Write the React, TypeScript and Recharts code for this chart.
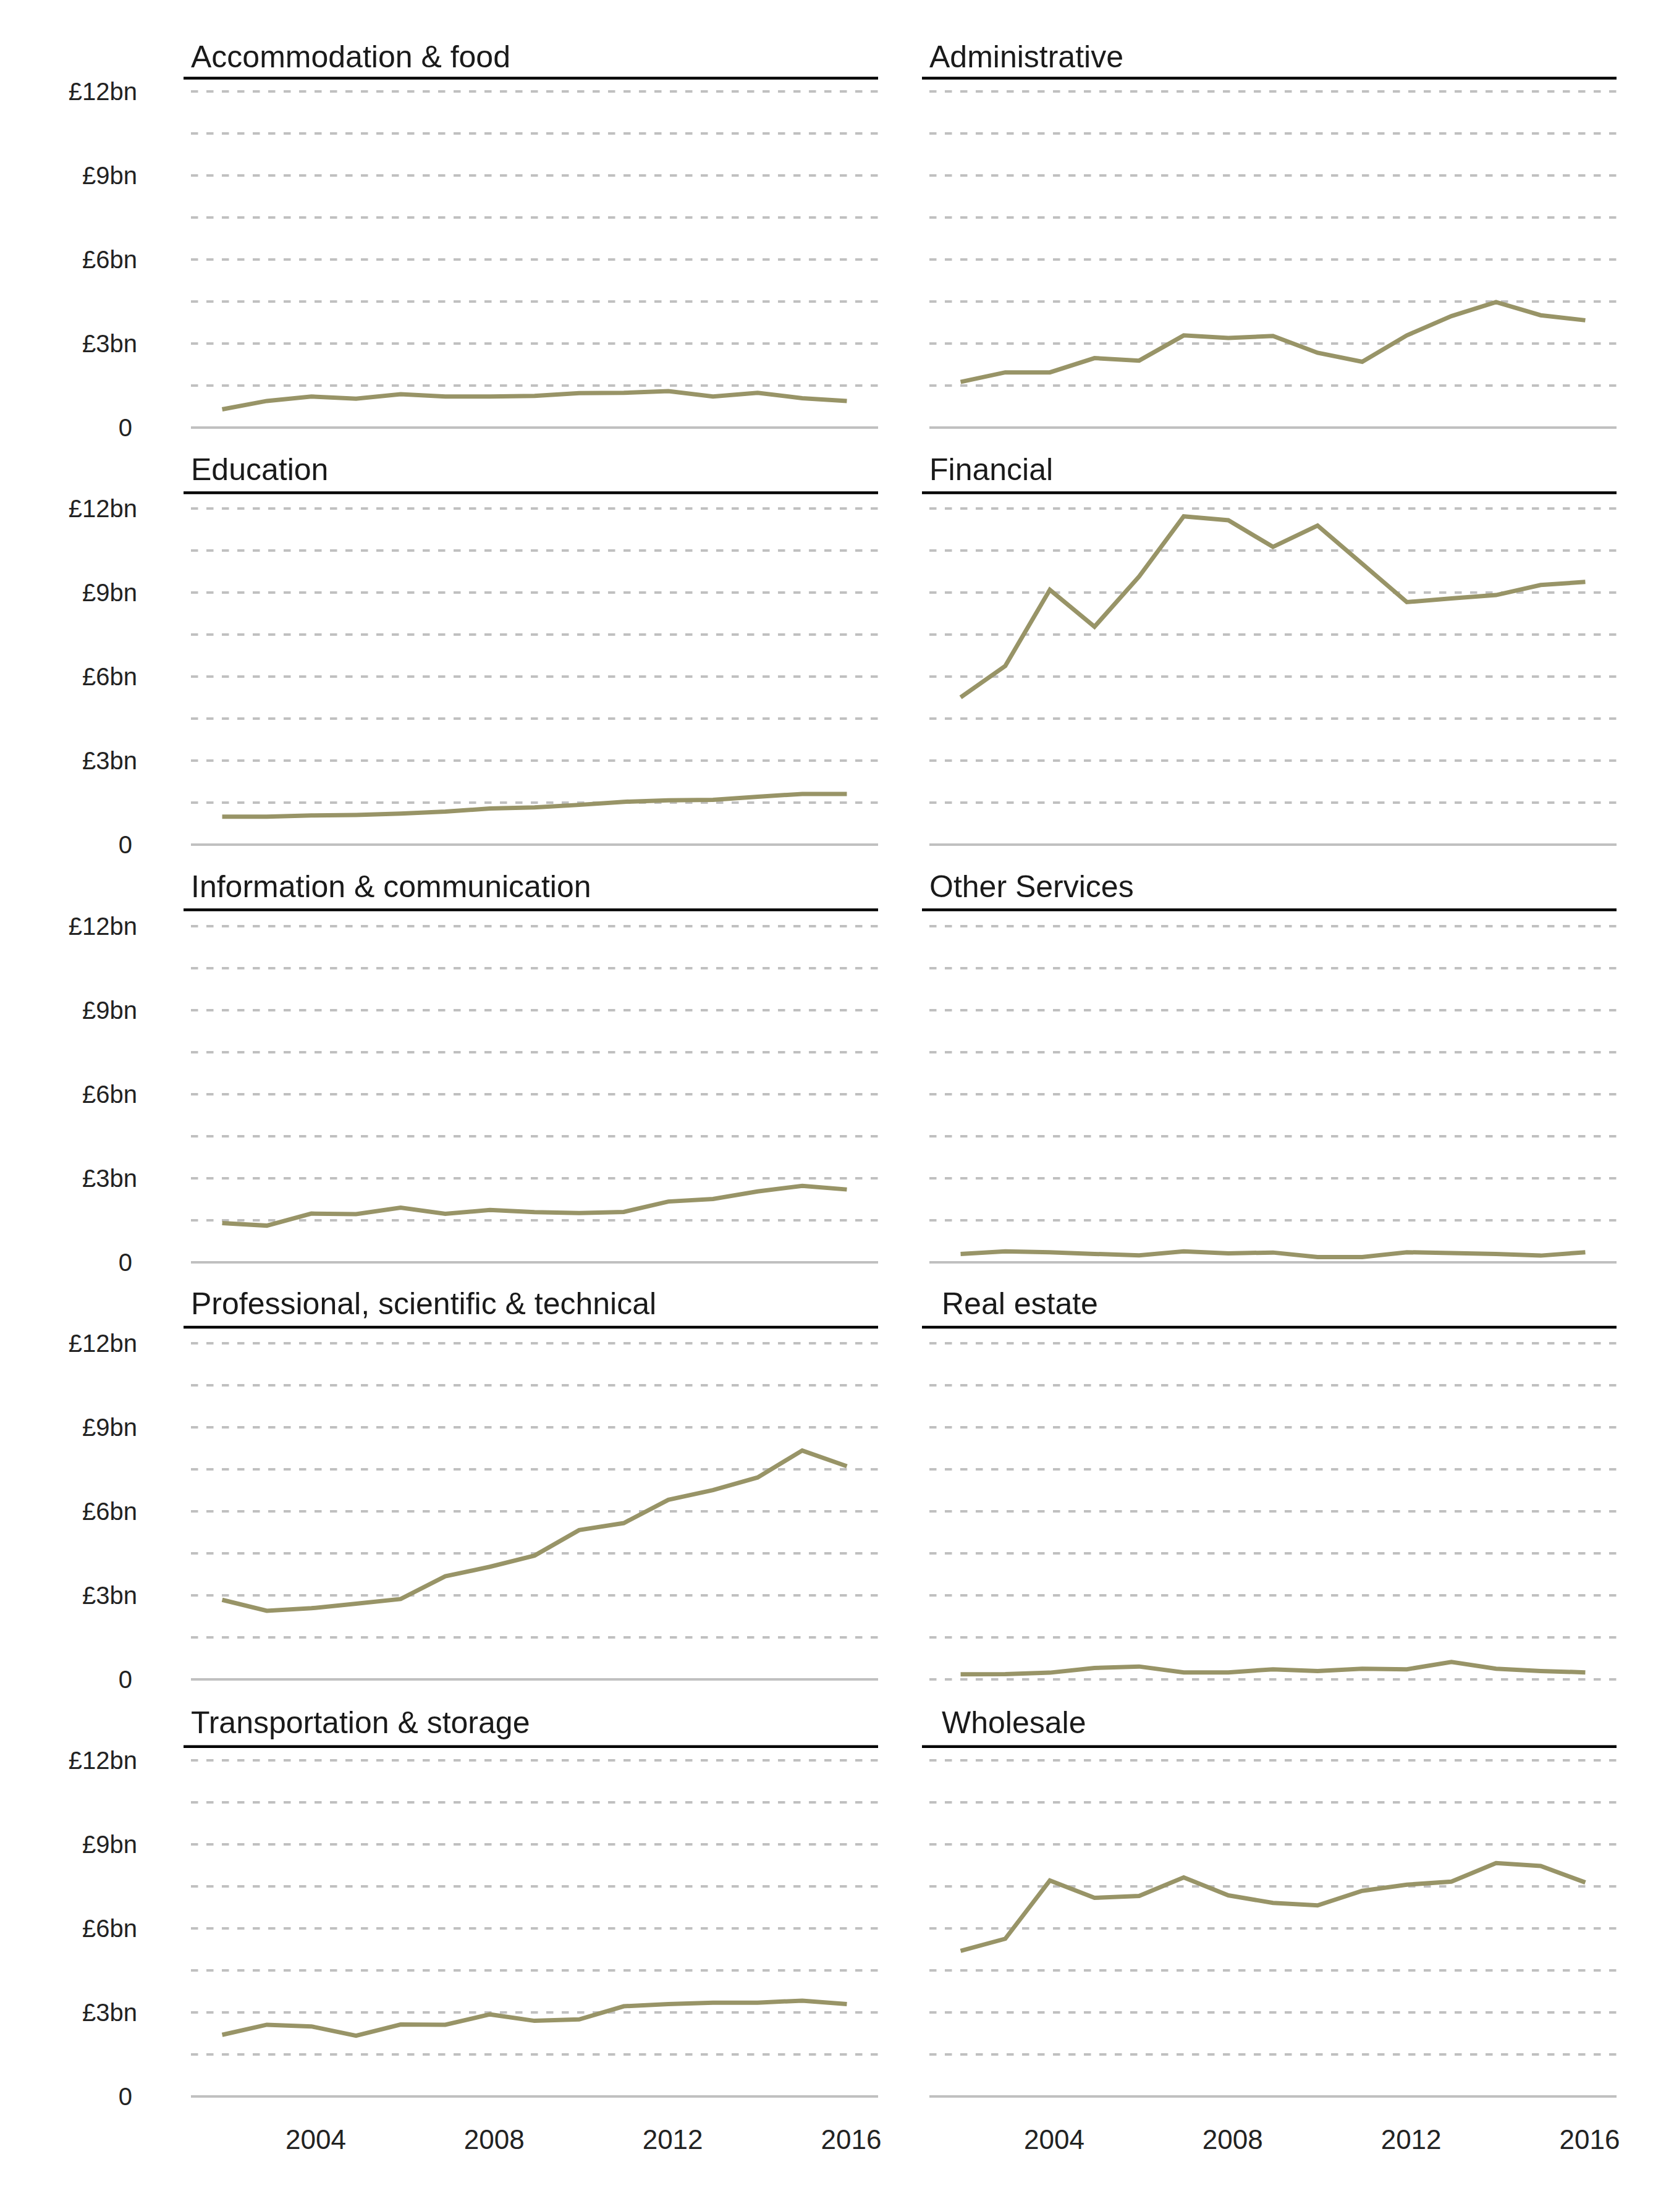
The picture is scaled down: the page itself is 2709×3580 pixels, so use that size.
import React from 'react';
import { LineChart, Line, XAxis, YAxis, CartesianGrid, ReferenceLine } from 'recharts';

const years = [2002, 2003, 2004, 2005, 2006, 2007, 2008, 2009, 2010, 2011, 2012, 2013, 2014, 2015, 2016];

// £bn per year
const accommodation = [0.65, 0.95, 1.11, 1.03, 1.19, 1.11, 1.11, 1.13, 1.23, 1.24, 1.3, 1.11, 1.24, 1.05, 0.95];
const administrative = [1.63, 1.97, 1.97, 2.48, 2.39, 3.29, 3.2, 3.27, 2.67, 2.35, 3.29, 3.98, 4.48, 4.01, 3.83];
const education = [1.0, 1.0, 1.04, 1.06, 1.11, 1.18, 1.29, 1.33, 1.42, 1.53, 1.58, 1.6, 1.71, 1.81, 1.81];
const financial = [5.26, 6.38, 9.1, 7.78, 9.57, 11.72, 11.58, 10.63, 11.39, 10.03, 8.66, 8.79, 8.91, 9.27, 9.38];
const information = [1.4, 1.31, 1.74, 1.72, 1.95, 1.73, 1.87, 1.79, 1.76, 1.8, 2.17, 2.26, 2.53, 2.73, 2.6];
const otherServices = [0.3, 0.39, 0.36, 0.3, 0.25, 0.39, 0.32, 0.35, 0.19, 0.19, 0.36, 0.33, 0.3, 0.24, 0.36];
const professional = [2.84, 2.45, 2.54, 2.7, 2.87, 3.68, 4.02, 4.42, 5.33, 5.58, 6.41, 6.76, 7.21, 8.17, 7.61];
const realEstate = [0.18, 0.19, 0.24, 0.41, 0.46, 0.25, 0.25, 0.36, 0.3, 0.38, 0.36, 0.62, 0.38, 0.3, 0.25];
const transportation = [2.2, 2.56, 2.5, 2.17, 2.57, 2.56, 2.93, 2.7, 2.75, 3.22, 3.3, 3.35, 3.35, 3.42, 3.3];
const wholesale = [5.2, 5.63, 7.71, 7.09, 7.16, 7.82, 7.18, 6.91, 6.82, 7.34, 7.56, 7.67, 8.33, 8.23, 7.64];

const yGridTicks = [0, 1.5, 3, 4.5, 6, 7.5, 9, 10.5, 12];
const yLabelTicks = [0, 3, 6, 9, 12];
const yLabels = ['0', '£3bn', '£6bn', '£9bn', '£12bn'];
const xTicks = [2004, 2008, 2012, 2016];

const panels = [
  { title: 'Accommodation & food', values: accommodation },
  { title: 'Administrative', values: administrative },
  { title: 'Education', values: education },
  { title: 'Financial', values: financial },
  { title: 'Information & communication', values: information },
  { title: 'Other Services', values: otherServices },
  { title: 'Professional, scientific & technical', values: professional },
  { title: 'Real estate', values: realEstate, indent: 20, noBaseline: true },
  { title: 'Transportation & storage', values: transportation },
  { title: 'Wholesale', values: wholesale, indent: 20 },
];

const FONT = '"Liberation Sans", Arial, Helvetica, sans-serif';
const LINE = '#989467';
const GRID = '#c0c0c0';

const PLOT_W = 1112;
const PLOT_H = 544;
const Y_AXIS_W = 309;
const colPlotX = [309, 1504];
const rowPlotY = [148, 823, 1499, 2174, 2849];
const rowRuleY = [126.5, 797.6, 1472.6, 2148, 2826.8];
const rowTitleY = [109, 777, 1452, 2127, 2805];
const PAD = 40;
const RIGHT = 60;

const YTick = (props: any) => {
  const { x, y, payload } = props;
  const idx = yLabelTicks.indexOf(payload.value);
  if (idx < 0) return <g />;
  return (
    <text
      x={payload.value === 0 ? x - 8 : x}
      y={y}
      dy={14}
      textAnchor="end"
      fontSize={40}
      fill="#222"
      fontFamily={FONT}
    >
      {yLabels[idx]}
    </text>
  );
};

function Panel({ index }: { index: number }) {
  const p = panels[index];
  const col = index % 2;
  const row = Math.floor(index / 2);
  const isBottom = row === 4;
  const data = years.map((year, i) => ({ year, value: p.values[i] }));
  const yw = col === 0 ? Y_AXIS_W : 0;
  const bottom = isBottom ? 120 : PAD;
  return (
    <div
      style={{
        position: 'absolute',
        left: colPlotX[col] - yw,
        top: rowPlotY[row] - PAD,
      }}
    >
      <LineChart
        width={yw + PLOT_W + RIGHT}
        height={PAD + PLOT_H + bottom}
        data={data}
        margin={{ top: PAD, right: RIGHT, bottom: isBottom ? 0 : PAD, left: 0 }}
      >
        <CartesianGrid
          vertical={false}
          stroke={GRID}
          strokeWidth={4}
          strokeDasharray="11.5 13.5"
        />
        <XAxis
          type="number"
          dataKey="year"
          domain={[2001.3, 2016.7]}
          ticks={xTicks}
          hide={!isBottom}
          axisLine={false}
          tickLine={false}
          tickSize={0}
          tickMargin={54}
          height={120}
          tick={{ fontSize: 44, fill: '#222', fontFamily: FONT, dx: 7 }}
        />
        <YAxis
          type="number"
          domain={[0, 12]}
          ticks={yGridTicks}
          hide={col !== 0}
          width={yw}
          axisLine={false}
          tickLine={false}
          tickSize={0}
          tickMargin={87}
          interval={0}
          tick={<YTick />}
        />
        {!p.noBaseline && <ReferenceLine y={0} stroke={GRID} strokeWidth={4} />}
        <Line
          type="linear"
          dataKey="value"
          stroke={LINE}
          strokeWidth={7}
          dot={false}
          isAnimationActive={false}
        />
      </LineChart>
    </div>
  );
}

export default function App() {
  return (
    <div
      style={{
        position: 'absolute',
        left: 0,
        top: 0,
        width: 2709,
        height: 3580,
        background: '#fff',
        fontFamily: FONT,
      }}
    >
      {panels.map((_, i) => (
        <Panel key={i} index={i} />
      ))}
      <svg
        width={2709}
        height={3580}
        style={{ position: 'absolute', left: 0, top: 0, pointerEvents: 'none' }}
      >
        {panels.map((p, i) => {
          const col = i % 2;
          const row = Math.floor(i / 2);
          const x0 = colPlotX[col];
          return (
            <g key={i}>
              <text
                x={x0 + (p.indent || 0)}
                y={rowTitleY[row]}
                fontSize={50}
                fill="#1a1a1a"
                fontFamily={FONT}
              >
                {p.title}
              </text>
              <line
                x1={x0 - 12}
                x2={x0 + PLOT_W}
                y1={rowRuleY[row]}
                y2={rowRuleY[row]}
                stroke="#000"
                strokeWidth={4.5}
              />
            </g>
          );
        })}
      </svg>
    </div>
  );
}
